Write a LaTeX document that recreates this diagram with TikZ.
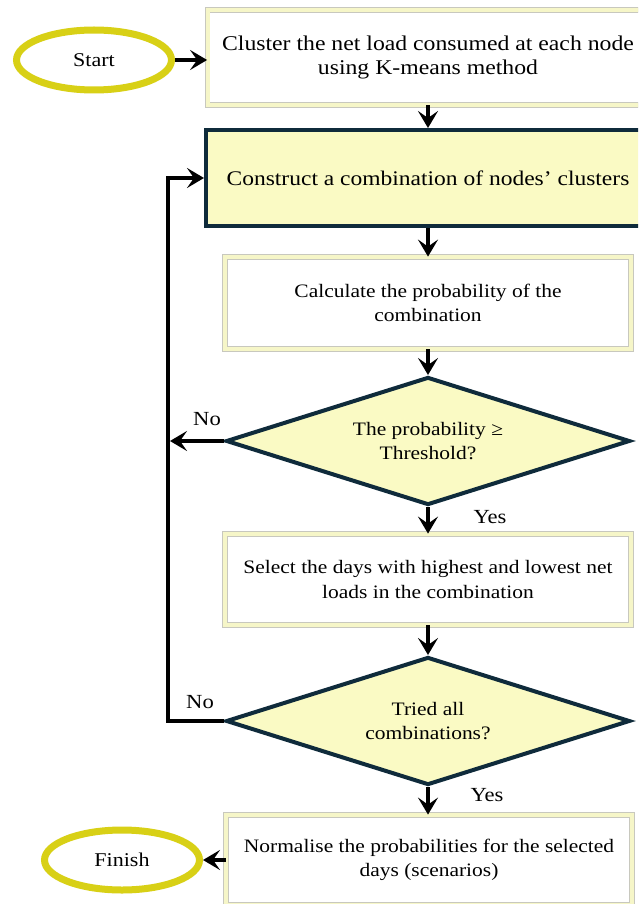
\documentclass[tikz,border=0pt]{standalone}
\usepackage{fontspec}
\setmainfont{Liberation Serif}[FakeStretch=1.13]
\usetikzlibrary{shapes.geometric,arrows.meta,calc}

\definecolor{termyellow}{HTML}{D8D016}
\definecolor{paleband}{HTML}{F6F6C8}
\definecolor{keyfill}{HTML}{FAFAC4}
\definecolor{darkrim}{HTML}{0F2B3B}
\definecolor{thinrim}{HTML}{C8C8BE}

\tikzset{
  terminal/.style={ellipse, draw=termyellow, line width=7pt, fill=white,
    minimum width=155pt, minimum height=60pt, inner sep=0pt,
    font=\fontsize{19.5}{22}\selectfont},
  stepbox/.style={rectangle, draw=thinrim, line width=0.8pt, double=paleband,
    double distance=4pt, fill=white, inner sep=0pt, align=center,
    font=\fontsize{19}{24.5}\selectfont},
  keybox/.style={rectangle, draw=darkrim, line width=4pt, fill=keyfill,
    inner sep=0pt, align=center, font=\fontsize{20.8}{24.5}\selectfont},
  decision/.style={diamond, aspect=3.16, draw=darkrim, line width=4pt,
    fill=keyfill, inner sep=0pt, align=center, minimum width=404pt,
    minimum height=128pt, font=\fontsize{19}{24.5}\selectfont},
  flow/.style={line width=3.5pt, draw=black,
    -{Stealth[length=17pt, width=20pt, inset=7pt]}},
  tag/.style={font=\fontsize{20}{24}\selectfont, inner sep=0pt}
}

\begin{document}
\begin{tikzpicture}[x=1pt, y=-1pt]
  \useasboundingbox (0,0) rectangle (638,904);
  \fill[white] (0,0) rectangle (638,904);
  \clip (0,0) rectangle (638,904);

  % terminals
  \node[terminal] (start) at (94,60) {Start};
  \node[terminal] (finish) at (122,860) {Finish};

  % process steps
  \node[stepbox, minimum width=441pt, minimum height=95pt,
        font=\fontsize{21}{24}\selectfont] (cluster) at (428,57.5)
    {Cluster the net load consumed at each node\\using K-means method};
  \node[keybox, minimum width=444pt, minimum height=96pt] (combo) at (428,178)
    {Construct a combination of nodes’ clusters};
  \node[stepbox, minimum width=406pt, minimum height=92pt] (prob) at (428,303)
    {Calculate the probability of the\\combination};
  \node[decision] (thresh) at (428,441)
    {The probability ≥\\Threshold?};
  \node[stepbox, minimum width=406pt, minimum height=91pt] (select) at (428,579.5)
    {Select the days with highest and lowest net\\loads in the combination};
  \node[decision] (tried) at (428,721)
    {Tried all\\combinations?};
  \node[stepbox, minimum width=406pt, minimum height=90pt] (norm) at (429,860)
    {Normalise the probabilities for the selected\\days (scenarios)};

  % return line of the loop
  \coordinate (loopx) at (168,0);

  % connectors
  \draw[flow] (start.east) -- (cluster.west |- start.east);
  \draw[flow] (cluster.south) -- (combo.north);
  \draw[flow] (combo.south) -- (prob.north);
  \draw[flow] (prob.south) -- (thresh.north);
  \draw[flow] (thresh.south) -- (select.north);
  \draw[flow] (select.south) -- (tried.north);
  \draw[flow] (tried.south) -- (tried.south |- norm.north);
  \draw[flow] (thresh.west) -- ($(thresh.west -| loopx)+(2,0)$);
  \draw[flow] (tried.west) -- (tried.west -| loopx) |- (combo.west);
  \draw[flow] (norm.west |- finish.east) -- (finish.east);

  % branch labels
  \node[tag] (no1) at (207,419) {No};
  \node[tag] (yes1) at (490,517) {Yes};
  \node[tag] (no2) at (200,702) {No};
  \node[tag] (yes2) at (487,795) {Yes};
\end{tikzpicture}
\end{document}
